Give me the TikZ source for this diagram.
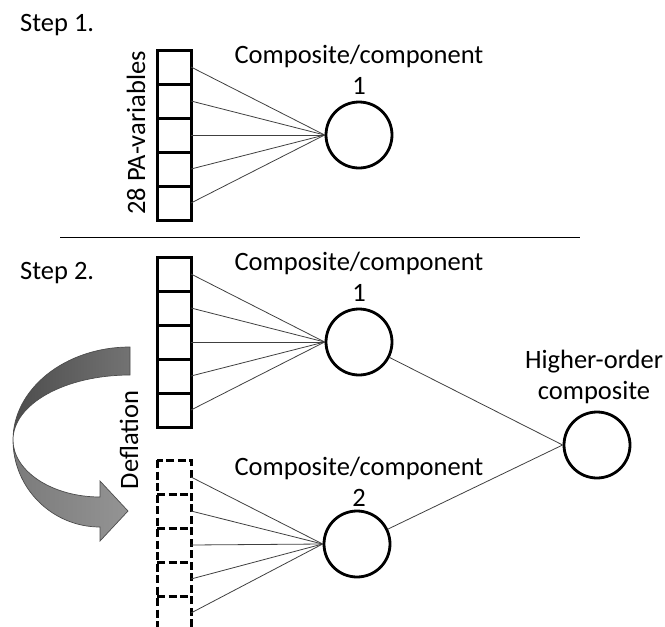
\documentclass[tikz,border=0pt]{standalone}
\usepackage{fontspec}
\setmainfont{Carlito}
\begin{document}
\begin{tikzpicture}[x=1pt,y=-1pt,
  varbox/.style={minimum width=34pt,minimum height=34pt,inner sep=0pt,outer sep=0pt},
  solidline/.style={draw,line width=3pt},
  dashline/.style={draw,line width=3pt,dash pattern=on 8pt off 3.5pt},
  comp/.style={draw,circle,line width=2.8pt,minimum size=66pt,inner sep=0pt},
  conn/.style={draw=black!75,line width=0.8pt},
  lbl/.style={font=\fontsize{26.5}{31}\selectfont,align=center,inner sep=0pt},
  band/.style={draw=black!70,line width=0.7pt}]
\useasboundingbox (0,0) rectangle (665,627);

% titles
\node[lbl,anchor=west] (s1) at (20,25) {Step 1.};
\node[lbl,anchor=west] (s2) at (20,273) {Step 2.};

% separator
\coordinate (sepL) at (60,237);
\coordinate (sepR) at (580,237);
\draw[line width=0.9pt] (sepL) -- (sepR);

% step 1 boxes
\foreach \i in {1,...,5}{
  \node[varbox] (a\i) at (174,{67+34*(\i-1)}) {};
}
\draw[solidline] (a1.north west) rectangle (a5.south east);
\foreach \i in {1,...,4}{ \draw[solidline] (a\i.south west) -- (a\i.south east); }
\node[lbl,rotate=90] (pav) at (136,133) {28 PA-variables};
\node[comp] (c0) at (359,135) {};
\node[lbl] (t0) at (359,70) {Composite/component\\1};
\foreach \i in {1,...,5}{ \draw[conn] (a\i.east) -- (c0.west); }

% step 2 boxes
\foreach \i in {1,...,5}{
  \node[varbox] (b\i) at (174,{274+34*(\i-1)}) {};
  \node[varbox] (d\i) at (174,{477+34*(\i-1)}) {};
}
\draw[solidline] (b1.north west) rectangle (b5.south east);
\foreach \i in {1,...,4}{ \draw[solidline] (b\i.south west) -- (b\i.south east); }
\draw[dashline] (d1.north west) rectangle (d5.south east);
\foreach \i in {1,...,4}{ \draw[dashline] (d\i.south west) -- (d\i.south east); }

\node[comp] (c1) at (359,342) {};
\node[lbl] (t1) at (359,277) {Composite/component\\1};
\node[comp] (c2) at (357,544) {};
\node[lbl] (t2) at (359,482) {Composite/component\\2};
\node[comp] (ho) at (597,445) {};
\node[lbl] (t3) at (594,377) {Higher-order\\composite};
\foreach \i in {1,...,5}{
  \draw[conn] (b\i.east) -- (c1.west);
  \draw[conn] (d\i.east) -- (c2.west);
}
\draw[conn] (c1) -- (ho.west);
\draw[conn] (c2) -- (ho.west);

% deflation arrow
\path[band,left color=black!70,right color=black!55]
  (130,347) .. controls (65,347) and (13,389) .. (13,440)
  .. controls (13,404) and (65,375) .. (130,375) -- cycle;
\path[band,left color=black!52,right color=black!42]
  (13,440) .. controls (13,471) and (52,497) .. (100,497)
  -- (100,481) -- (128,511) -- (100,541) -- (100,527)
  .. controls (52,527) and (13,488) .. (13,440) -- cycle;
\node[lbl,rotate=90] (defl) at (129,440) {Deflation};
\end{tikzpicture}
\end{document}
